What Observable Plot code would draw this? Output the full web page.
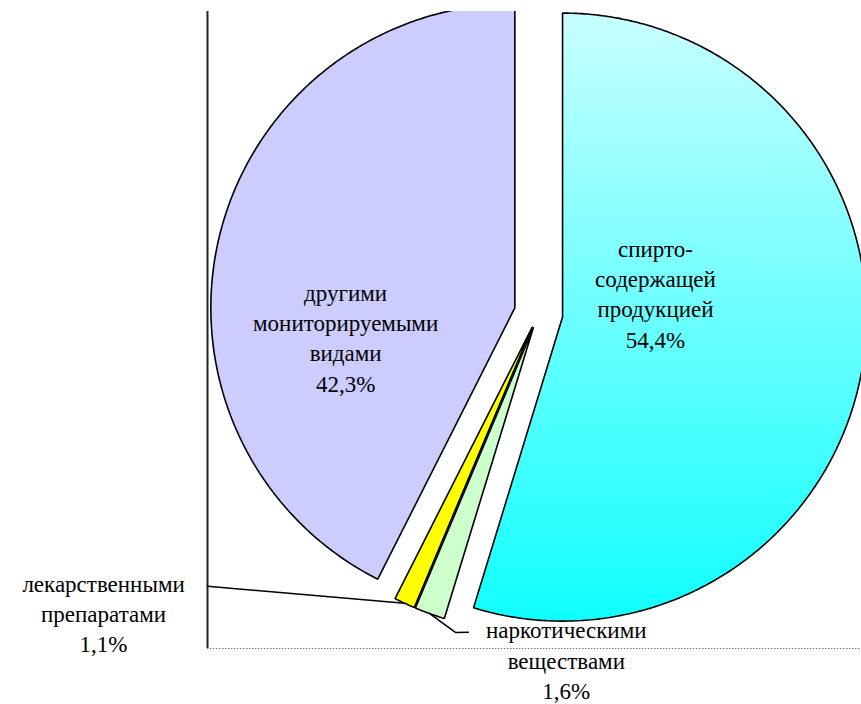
<!DOCTYPE html>
<html>
<head>
<meta charset="utf-8">
<script src="https://cdn.jsdelivr.net/npm/d3@7"></script>
<script src="https://cdn.jsdelivr.net/npm/@observablehq/plot@0.6"></script>
<style>
  html, body { margin: 0; padding: 0; background: #ffffff; }
  #chart svg { display: block; }
</style>
</head>
<body>
<div id="chart"></div>
<script>
// ---------- data ----------
const categories = [
  "спиртосодержащей продукцией",
  "наркотическими веществами",
  "лекарственными препаратами",
  "другими мониторируемыми видами"
];
const labelTexts = [
  "спирто-\nсодержащей\nпродукцией\n54,4%",
  "наркотическими\nвеществами\n1,6%",
  "лекарственными\nпрепаратами\n1,1%",
  "другими\nмониторируемыми\nвидами\n42,3%"
];
const shares = [54.4, 1.6, 1.1, 42.3];

// ---------- styling / layout ----------
const FONT = "Liberation Serif";
const sliceFill = ["url(#cyanGrad)", "#ccffcc", "#ffff00", "#ccccff"];
const explode = [0.08, 0.05, 0.05, 0.08];           // radial offset, in radii
// label placement (polar, from pie centre): angle in degrees clockwise from 12 o'clock, distance in radii
const labelPolar = [
  {angle: 79.8, dist: 0.391},
  {angle: 175.4, dist: 1.140},
  {angle: 235.5, dist: 1.736},
  {angle: 263.2, dist: 0.639}
];
// leader-line route points (polar) for the outside labels
const leaderPolar = {
  1: [{angle: 194.6, dist: 1.084}, {angle: 192.4, dist: 1.074}],
  2: [{angle: 230.5, dist: 1.411}]
};
const xDomain = [-1.0888, 1.0625];
const yDomain = [-1.1020, 0.9934];

// ---------- geometry ----------
const pie = d3.pie().sort(null).value(d => d)(shares);
const polar = (a, r) => ({x: r * Math.sin(a), y: r * Math.cos(a)});
const deg = Math.PI / 180;

const slices = pie.map((p, i) => {
  const mid = (p.startAngle + p.endAngle) / 2;
  const o = polar(mid, explode[i]);
  const pts = [{x: o.x, y: o.y}];
  const n = Math.max(2, Math.ceil((p.endAngle - p.startAngle) / (0.5 * deg)));
  for (let k = 0; k <= n; k++) {
    const a = p.startAngle + (p.endAngle - p.startAngle) * k / n;
    const q = polar(a, 1);
    pts.push({x: o.x + q.x, y: o.y + q.y});
  }
  pts.push({x: o.x, y: o.y});
  return {i, name: categories[i], pts, mid, o, fill: sliceFill[i]};
});

const labelRows = labelTexts.map((t, i) => {
  const q = polar(labelPolar[i].angle * deg, labelPolar[i].dist);
  return {text: t, x: q.x, y: q.y, name: categories[i]};
});

const leaders = Object.entries(leaderPolar).map(([i, route]) => {
  const s = slices[+i];
  const start = polar(s.mid, 1);
  const pts = [{x: s.o.x + start.x, y: s.o.y + start.y}];
  route.forEach(r => pts.push(polar(r.angle * deg, r.dist)));
  return pts;
});

const marks = [
  ...slices.map(s => Plot.line(s.pts, {
    x: "x", y: "y", fill: s.fill, stroke: "#000", strokeWidth: 1.6,
    strokeLinejoin: "miter", curve: "linear", clip: true
  })),
  Plot.ruleX([xDomain[0]], {stroke: "#222", strokeWidth: 2}),
  Plot.ruleY([yDomain[0]], {stroke: "#777", strokeWidth: 1.2, strokeDasharray: "1.5,1.5"}),
  ...leaders.map(pts => Plot.line(pts, {x: "x", y: "y", stroke: "#000", strokeWidth: 1.5, curve: "linear"})),
  Plot.text(labelRows, {
    x: "x", y: "y", text: "text",
    fontSize: 23, fontFamily: FONT, lineHeight: 1.32,
    textAnchor: "middle", fill: "#000"
  })
];

const chart = Plot.plot({
  width: 861,
  height: 704,
  marginLeft: 207,
  marginRight: 0,
  marginTop: 11,
  marginBottom: 56,
  x: {domain: xDomain, axis: null},
  y: {domain: yDomain, axis: null},
  style: {background: "#ffffff"},
  marks
});

const svg = d3.select(chart);
svg.attr("font-family", FONT);
svg.selectAll("text, tspan").attr("font-family", FONT).style("font-family", FONT);

const grad = svg.insert("defs", ":first-child")
  .append("linearGradient")
  .attr("id", "cyanGrad")
  .attr("x1", 0).attr("y1", 0).attr("x2", 0).attr("y2", 1);
grad.append("stop").attr("offset", "0%").attr("stop-color", "#c8ffff");
grad.append("stop").attr("offset", "100%").attr("stop-color", "#10ffff");

document.getElementById("chart").appendChild(chart);
</script>
</body>
</html>
